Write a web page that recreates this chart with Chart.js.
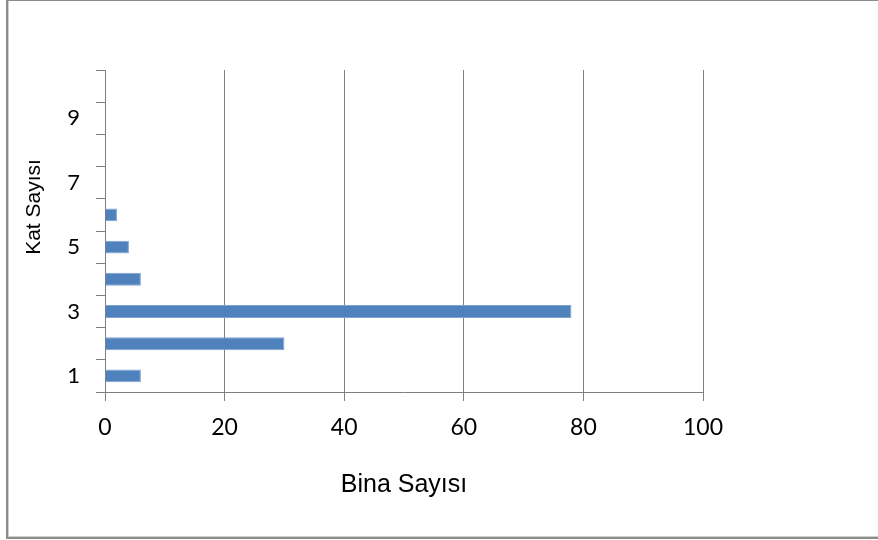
<!DOCTYPE html>
<html lang="tr">
<head>
    <meta charset="UTF-8">
    <title>Kat Sayısı - Bina Sayısı</title>
    <script src="https://cdn.jsdelivr.net/npm/chart.js"></script>
    <style>
        body { margin: 0; background: #fff; }
        #wrap { position: relative; width: 878px; height: 540px; overflow: hidden; }
        #chart { position: absolute; left: 0; top: 0; }
        #frame {
            position: absolute; left: 6px; top: -1px; width: 900px; height: 536px;
            border: 2px solid #8c8c8c; border-right: none;
            box-shadow: inset 1px -1px 0 #cfcfcf;
        }
    </style>
</head>
<body>
    <div id="wrap">
        <canvas id="chart" width="878" height="540"></canvas>
        <div id="frame"></div>
    </div>

    <script>
        // veriler
        const katSayisi = ['1', '2', '3', '4', '5', '6', '7', '8', '9', '10'];
        const binaSayisi = [6, 30, 78, 6, 4, 2, 0, 0, 0, 0];
        const gosterilenKatlar = ['1', '3', '5', '7', '9'];
        const xEkseni = { min: 0, max: 100, adim: 20 };

        const gri = '#7f7f7f';

        // y ekseni başlığı (grafikte biraz yukarıda duruyor)
        const yBaslik = {
            id: 'yBaslik',
            afterDraw(chart) {
                const ctx = chart.ctx;
                ctx.save();
                ctx.translate(34, 207);
                ctx.rotate(-Math.PI / 2);
                ctx.font = '21px "Liberation Sans", Arial, sans-serif';
                ctx.fillStyle = '#000';
                ctx.textAlign = 'center';
                ctx.textBaseline = 'middle';
                ctx.fillText('Kat Sayısı', 0, 0);
                ctx.restore();
            }
        };

        const ctx = document.getElementById('chart').getContext('2d');
        new Chart(ctx, {
            type: 'bar',
            data: {
                labels: katSayisi,
                datasets: [{
                    label: 'Bina Sayısı',
                    data: binaSayisi,
                    backgroundColor: '#4F81BD',
                    borderColor: '#7fa3d1',
                    borderWidth: 1,
                    categoryPercentage: 1,
                    barPercentage: 0.4
                }]
            },
            options: {
                indexAxis: 'y',
                responsive: false,
                animation: false,
                layout: { padding: { left: 0, right: 175, top: 70, bottom: 0 } },
                plugins: {
                    legend: { display: false },
                    tooltip: { enabled: false }
                },
                scales: {
                    x: {
                        min: xEkseni.min,
                        max: xEkseni.max,
                        afterFit: (s) => { s.height = 148; },
                        ticks: {
                            stepSize: xEkseni.adim,
                            color: '#000',
                            padding: 13,
                            font: { family: 'Lato', size: 23 }
                        },
                        grid: { color: gri, lineWidth: 1, tickLength: 9, drawTicks: true },
                        border: { color: gri, width: 1 },
                        title: {
                            display: true,
                            text: 'Bina Sayısı',
                            color: '#000',
                            padding: { top: 0, bottom: 40 },
                            font: { family: '"Liberation Sans", Arial, sans-serif', size: 25 }
                        }
                    },
                    y: {
                        reverse: true,
                        afterFit: (s) => { s.width = 105; },
                        ticks: {
                            autoSkip: false,
                            color: '#000',
                            padding: 16,
                            font: { family: 'Lato', size: 22 },
                            callback: function (val) {
                                const lbl = this.getLabelForValue(val);
                                return gosterilenKatlar.includes(lbl) ? lbl : '';
                            }
                        },
                        grid: { color: gri, drawOnChartArea: false, tickLength: 9, offset: true },
                        border: { color: gri, width: 1 }
                    }
                }
            },
            plugins: [yBaslik]
        });
    </script>
</body>
</html>
